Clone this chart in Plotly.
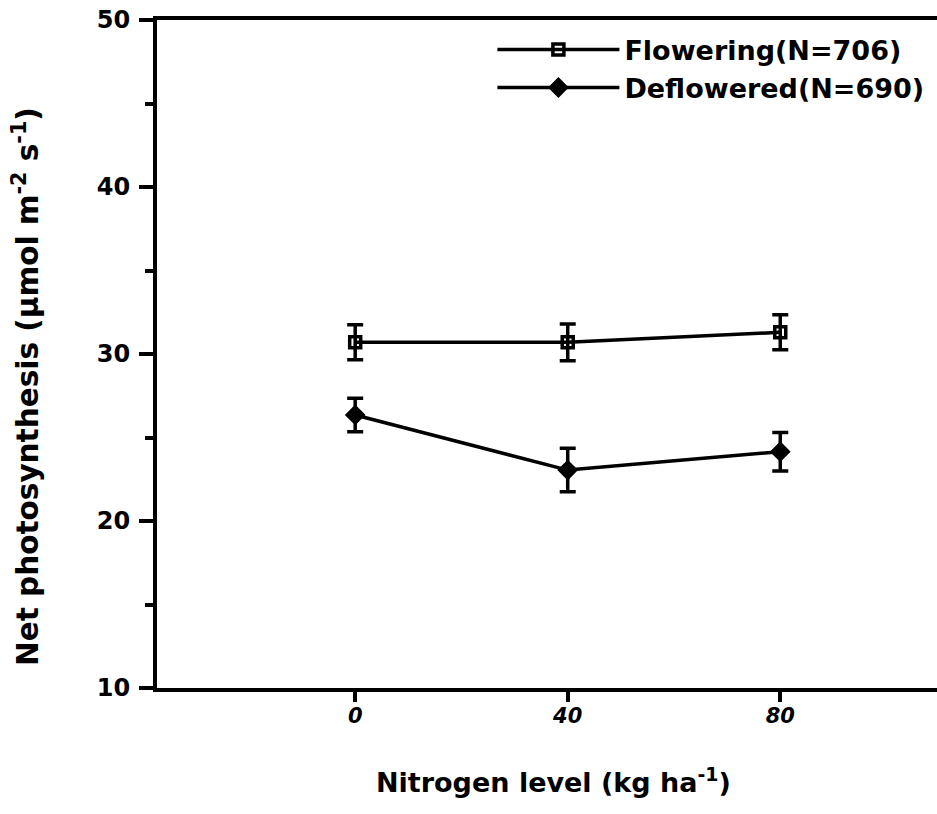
import plotly.graph_objects as go

nitrogen = [0, 40, 80]
flowering = [30.7, 30.7, 31.3]
flowering_err = [1.05, 1.1, 1.05]
deflowered = [26.35, 23.05, 24.15]
deflowered_err = [1.0, 1.3, 1.15]
y_ticks = [10, 20, 30, 40, 50]
y_minor = [15, 25, 35, 45]
x_ticks = [0, 40, 80]

FONT = "DejaVu Sans"

fig = go.Figure()
fig.add_trace(go.Scatter(
    x=nitrogen, y=flowering, mode="lines+markers",
    name="<b>Flowering(N=706)</b>",
    line=dict(color="black", width=3.5),
    marker=dict(symbol="square-open", size=11, color="black", line=dict(width=3.5, color="black")),
    error_y=dict(type="data", array=flowering_err, color="black", thickness=3.5, width=8),
))
fig.add_trace(go.Scatter(
    x=nitrogen, y=deflowered, mode="lines+markers",
    name="<b>Deflowered(N=690)</b>",
    line=dict(color="black", width=3.5),
    marker=dict(symbol="diamond", size=16, color="black"),
    error_y=dict(type="data", array=deflowered_err, color="black", thickness=3.5, width=8),
))

fig.update_layout(
    width=937, height=814,
    margin=dict(l=157, r=0, t=20, b=126),
    plot_bgcolor="white", paper_bgcolor="white",
    font=dict(family=FONT, color="black"),
    showlegend=True,
    legend=dict(
        x=0.43, y=0.992, xanchor="left", yanchor="top",
        font=dict(family=FONT, size=27, color="black"),
        itemwidth=122, tracegroupgap=0, bgcolor="rgba(0,0,0,0)",
    ),
    xaxis=dict(
        range=[-37.3, 109.5], tickmode="array", tickvals=x_ticks,
        ticktext=["<b><i>%d</i></b>" % v for v in x_ticks],
        showgrid=False, zeroline=False, showline=True, linecolor="black", linewidth=4,
        mirror=True, ticks="outside", ticklen=10, tickwidth=3.5, tickcolor="black",
        tickfont=dict(family=FONT, size=21, color="black"),
        ticklabelstandoff=-4,
    ),
    yaxis=dict(
        range=[10, 50], tickmode="array", tickvals=y_ticks,
        ticktext=["<b>%d</b>" % v for v in y_ticks],
        showgrid=False, zeroline=False, showline=True, linecolor="black", linewidth=4,
        ticks="outside", ticklen=14, tickwidth=3.5, tickcolor="black",
        tickfont=dict(family=FONT, size=24, color="black"),
        ticklabelstandoff=4,
        minor=dict(tickvals=y_minor, ticks="outside", ticklen=8, tickwidth=3.5, tickcolor="black"),
    ),
    annotations=[
        dict(text="<b>Nitrogen level (kg ha<sup>-1</sup>)</b>", xref="paper", yref="paper",
             x=(553 - 157) / 780, y=-(780 - 688) / 668, xanchor="center", yanchor="middle",
             showarrow=False, font=dict(family=FONT, size=27, color="black")),
        dict(text="<b>Net photosynthesis (µmol m<sup>-2</sup> s<sup>-1</sup>)</b>", xref="paper", yref="paper",
             x=-(157 - 26) / 780, y=(688 - 387) / 668, xanchor="center", yanchor="middle",
             textangle=-90, showarrow=False, font=dict(family=FONT, size=29.5, color="black")),
    ],
)

fig.write_html("out.html")
